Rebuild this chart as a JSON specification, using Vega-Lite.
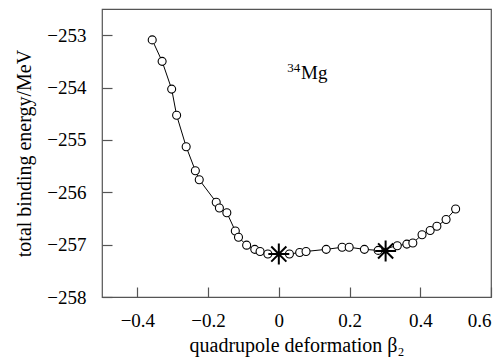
{
  "$schema": "https://vega.github.io/schema/vega-lite/v6.json",
  "autosize": {"type": "none"},
  "padding": {"left": 102, "top": 9, "right": 12, "bottom": 63},
  "width": 389,
  "height": 288,
  "background": "white",
  "config": {
    "view": {"stroke": "#555", "strokeWidth": 1.2}
  },
  "datasets": {
    "curve": [
      {"beta": -0.358, "E": -253.09},
      {"beta": -0.330, "E": -253.50},
      {"beta": -0.303, "E": -254.03},
      {"beta": -0.289, "E": -254.53},
      {"beta": -0.262, "E": -255.13},
      {"beta": -0.236, "E": -255.59},
      {"beta": -0.225, "E": -255.76},
      {"beta": -0.177, "E": -256.19},
      {"beta": -0.168, "E": -256.30},
      {"beta": -0.147, "E": -256.39},
      {"beta": -0.123, "E": -256.74},
      {"beta": -0.114, "E": -256.86},
      {"beta": -0.091, "E": -257.01},
      {"beta": -0.068, "E": -257.09},
      {"beta": -0.053, "E": -257.13},
      {"beta": -0.031, "E": -257.18},
      {"beta": 0.030, "E": -257.18},
      {"beta": 0.059, "E": -257.15},
      {"beta": 0.077, "E": -257.13},
      {"beta": 0.134, "E": -257.09},
      {"beta": 0.179, "E": -257.05},
      {"beta": 0.199, "E": -257.05},
      {"beta": 0.242, "E": -257.09},
      {"beta": 0.281, "E": -257.11},
      {"beta": 0.335, "E": -257.02},
      {"beta": 0.362, "E": -256.99},
      {"beta": 0.379, "E": -256.97},
      {"beta": 0.405, "E": -256.81},
      {"beta": 0.428, "E": -256.73},
      {"beta": 0.447, "E": -256.65},
      {"beta": 0.473, "E": -256.52},
      {"beta": 0.500, "E": -256.32}
    ],
    "minima": [
      {"beta": 0.0, "E": -257.18},
      {"beta": 0.302, "E": -257.12}
    ],
    "labels": [
      {"beta": 0.024, "E": -253.70, "text": "34", "size": "small"},
      {"beta": 0.063, "E": -253.83, "text": "Mg", "size": "big"}
    ]
  },
  "encoding": {
    "x": {
      "field": "beta", "type": "quantitative",
      "scale": {"domain": [-0.5, 0.6], "nice": false, "zero": false},
      "axis": {
        "values": [-0.4, -0.2, 0, 0.2, 0.4, 0.6], "format": ".1~f",
        "grid": false, "domain": false,
        "tickSize": -10, "tickColor": "#555", "tickWidth": 1.2,
        "labelFont": "Liberation Serif", "labelFontSize": 19, "labelColor": "black", "labelPadding": 24,
        "title": "quadrupole deformation β₂",
        "titleFont": "Liberation Serif", "titleFontSize": 20, "titleFontWeight": "normal", "titleColor": "black", "titlePadding": 5
      }
    },
    "y": {
      "field": "E", "type": "quantitative",
      "scale": {"domain": [-258, -252.5], "nice": false, "zero": false},
      "axis": {
        "values": [-258, -257, -256, -255, -254, -253], "format": "d",
        "grid": false, "domain": false,
        "tickSize": -10, "tickColor": "#555", "tickWidth": 1.2,
        "labelFont": "Liberation Serif", "labelFontSize": 19, "labelColor": "black", "labelPadding": 26,
        "title": "total binding energy/MeV",
        "titleFont": "Liberation Serif", "titleFontSize": 20, "titleFontWeight": "normal", "titleColor": "black", "titlePadding": 12
      }
    }
  },
  "layer": [
    {
      "data": {"name": "curve"},
      "mark": {"type": "line", "color": "black", "strokeWidth": 1}
    },
    {
      "data": {"name": "curve"},
      "mark": {"type": "point", "shape": "circle", "filled": true, "fill": "white", "stroke": "black", "strokeWidth": 1.1, "size": 64, "opacity": 1}
    },
    {
      "data": {"name": "minima"},
      "mark": {"type": "point", "shape": "M-1,0L1,0M0,-1L0,1M-0.72,-0.72L0.72,0.72M-0.72,0.72L0.72,-0.72", "filled": false, "stroke": "black", "strokeWidth": 2, "size": 440, "opacity": 1}
    },
    {
      "data": {"name": "labels"},
      "transform": [{"filter": "datum.size == 'small'"}],
      "mark": {"type": "text", "font": "Liberation Serif", "fontSize": 13, "align": "left", "baseline": "alphabetic", "color": "black"},
      "encoding": {"text": {"field": "text"}}
    },
    {
      "data": {"name": "labels"},
      "transform": [{"filter": "datum.size == 'big'"}],
      "mark": {"type": "text", "font": "Liberation Serif", "fontSize": 19, "align": "left", "baseline": "alphabetic", "color": "black"},
      "encoding": {"text": {"field": "text"}}
    }
  ]
}
